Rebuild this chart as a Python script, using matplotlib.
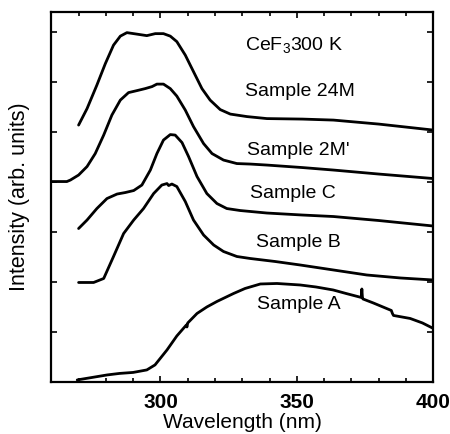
import numpy as np
import matplotlib
matplotlib.use('Agg')
import matplotlib.pyplot as plt
from matplotlib.ticker import MultipleLocator

plt.rcParams['font.family'] = ['Liberation Sans', 'DejaVu Sans']
plt.rcParams['mathtext.default'] = 'regular'

# spectra (wavelength nm, stacked intensity arb. units)
wl_a = [269.5, 275, 280.5, 285, 290, 295, 298, 302.4, 306, 309.5, 309.7, 310, 313.4, 317,
        320.7, 326.8, 331, 336.6, 342.7, 351.2, 357, 363.3, 368, 373.6, 373.8, 374, 374.2,
        378, 384.6, 385, 385.4, 391.5, 396, 400]
int_a = [0.04, 0.09, 0.14, 0.17, 0.19, 0.24, 0.34, 0.64, 0.92, 1.14, 1.10, 1.18, 1.37, 1.50,
         1.61, 1.77, 1.87, 1.96, 1.97, 1.94, 1.90, 1.84, 1.77, 1.69, 1.86, 1.70, 1.66,
         1.58, 1.43, 1.37, 1.33, 1.27, 1.18, 1.07]

wl_b = [270, 275.5, 279.2, 282.8, 286.5, 290.2, 293.8, 297.5, 300.5, 302.4, 303.0, 304.2,
        306.0, 309.1, 312.1, 315.8, 319.5, 323.1, 328.0, 332.9, 342, 351.2, 363.4, 375.6,
        388, 400]
int_b = [1.99, 1.99, 2.07, 2.51, 2.97, 3.24, 3.47, 3.77, 3.94, 3.97, 3.93, 3.96,
         3.91, 3.61, 3.24, 2.94, 2.74, 2.61, 2.51, 2.47, 2.41, 2.34, 2.24, 2.14,
         2.08, 2.04]

wl_c = [270, 273.1, 276.7, 280.4, 284.1, 287.1, 290.2, 293.2, 296.3, 298.7, 301.1, 303.6,
        305.4, 307.9, 310.3, 313.4, 317.0, 320.7, 324.3, 329.2, 339, 352, 363.4, 380, 400]
int_c = [3.07, 3.24, 3.47, 3.67, 3.76, 3.79, 3.83, 3.94, 4.24, 4.57, 4.84, 4.95,
         4.94, 4.79, 4.51, 4.11, 3.77, 3.57, 3.47, 3.43, 3.38, 3.34, 3.31, 3.23, 3.12]

wl_2m = [260, 265.7, 267.0, 270.0, 273.1, 276.1, 279.2, 282.2, 285.3, 288.3, 291.4, 294.4,
         296.9, 298.7, 301.1, 303.6, 306.0, 309.1, 312.1, 315.8, 318.9, 323.1, 328.0,
         332.9, 339, 352, 363.4, 380, 400]
int_2m = [4.01, 4.01, 4.04, 4.14, 4.31, 4.57, 4.94, 5.34, 5.64, 5.79, 5.83, 5.87,
          5.91, 5.96, 5.96, 5.87, 5.72, 5.44, 5.11, 4.77, 4.57, 4.44, 4.37,
          4.36, 4.34, 4.29, 4.24, 4.16, 4.07]

wl_cef = [270.0, 273.1, 276.7, 279.8, 282.8, 285.3, 287.7, 291.4, 295.0, 298.1, 301.1,
          303.6, 306.0, 309.1, 312.1, 315.2, 318.2, 321.9, 325.6, 331.7, 339, 352, 363.4,
          380, 400]
int_cef = [5.14, 5.47, 5.94, 6.37, 6.74, 6.92, 6.99, 6.96, 6.93, 6.97, 6.97,
           6.92, 6.81, 6.54, 6.21, 5.87, 5.64, 5.45, 5.36, 5.31, 5.27, 5.26, 5.24,
           5.16, 5.04]

labels = ['Sample A', 'Sample B', 'Sample C', "Sample 2M'", 'Sample 24M', 'CeF$_3$300 K']
label_x = [335.3, 335.1, 332.9, 331.7, 330.8, 331.1]
label_y = [1.54, 2.79, 3.78, 4.64, 5.81, 6.74]

fig = plt.figure(figsize=(4.5, 4.34), dpi=100)
ax = fig.add_axes([0.114, 0.12, 0.849, 0.852])

for wl, inten in [(wl_a, int_a), (wl_b, int_b), (wl_c, int_c),
                  (wl_2m, int_2m), (wl_cef, int_cef)]:
    ax.plot(wl, inten, color='black', linewidth=2.0,
            solid_joinstyle='round', solid_capstyle='round')

for txt, lx, ly in zip(labels, label_x, label_y):
    ax.text(lx, ly, txt, fontsize=14, ha='left', va='center')

ax.set_xlim(260, 400)
ax.set_ylim(0, 7.4)
ax.xaxis.set_major_locator(MultipleLocator(50))
ax.xaxis.set_minor_locator(MultipleLocator(10))
ax.yaxis.set_major_locator(MultipleLocator(1))
ax.set_yticklabels([])
ax.tick_params(which='both', direction='in', top=True, right=True, width=1.2)
ax.tick_params(which='major', length=4, labelsize=15, pad=8)
ax.tick_params(which='minor', length=3)
for lab in ax.get_xticklabels():
    lab.set_fontweight('bold')
for s in ax.spines.values():
    s.set_linewidth(1.6)

ax.set_xlabel('Wavelength (nm)', fontsize=15)
ax.set_ylabel('Intensity (arb. units)', fontsize=15.5)
ax.xaxis.set_label_coords(0.5, -0.083)
ax.yaxis.set_label_coords(-0.057, 0.5)

fig.savefig('out.png', dpi=100)
